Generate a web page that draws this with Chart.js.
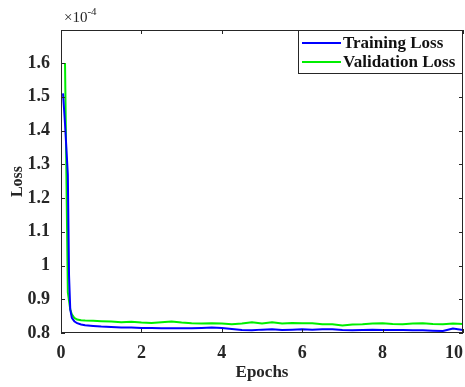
<!DOCTYPE html>
<html>
<head>
<meta charset="utf-8">
<script src="https://cdn.jsdelivr.net/npm/chart.js@4"></script>
<style>
html, body { margin: 0; padding: 0; background: #fff; overflow: hidden; }
canvas { display: block; }
</style>
</head>
<body>
<canvas id="lossChart" width="465" height="387"></canvas>
<script>
// values are in units of 1e-4 (as on the axis)
var epochs = [0.05, 0.1, 0.17, 0.2, 0.23, 0.27, 0.33, 0.4, 0.5, 0.6, 0.8,
    1, 1.25, 1.5, 1.75, 2, 2.25, 2.5, 2.75, 3, 3.25, 3.5, 3.75, 4, 4.25, 4.5, 4.75,
    5, 5.25, 5.5, 5.75, 6, 6.25, 6.5, 6.75, 7, 7.25, 7.5, 7.75, 8, 8.25, 8.5, 8.75,
    9, 9.25, 9.5, 9.75, 10];
var trainLoss = [1.51, 1.42, 1.27, 0.97, 0.87, 0.845, 0.835, 0.829, 0.825, 0.823, 0.821,
    0.819, 0.818, 0.816, 0.816, 0.815, 0.815, 0.814, 0.814, 0.814, 0.814, 0.815, 0.816, 0.815, 0.812, 0.809, 0.808,
    0.810, 0.811, 0.809, 0.810, 0.811, 0.810, 0.811, 0.811, 0.809, 0.808, 0.809, 0.810, 0.809, 0.809, 0.809, 0.808,
    0.808, 0.807, 0.806, 0.813, 0.809];
var valLoss = [null, 1.60, 0.92, 0.895, 0.87, 0.855, 0.845, 0.84, 0.838, 0.837, 0.836,
    0.835, 0.834, 0.832, 0.833, 0.831, 0.830, 0.832, 0.834, 0.831, 0.829, 0.828, 0.829, 0.828, 0.826, 0.828, 0.832,
    0.828, 0.832, 0.828, 0.830, 0.829, 0.829, 0.826, 0.826, 0.822, 0.825, 0.826, 0.828, 0.829, 0.827, 0.826, 0.828,
    0.829, 0.827, 0.826, 0.828, 0.827];
var seriesNames = ["Training Loss", "Validation Loss"];
var seriesColors = ["#0000ff", "#00ee00"];
var yTickValues = [0.8, 0.9, 1.0, 1.1, 1.2, 1.3, 1.4, 1.5, 1.6];

var serif = "'Liberation Serif', 'DejaVu Serif', serif";
var ink = "#262626";

function pts(ys) {
    return epochs.map(function (e, i) { return { x: e, y: ys[i] }; });
}

var framePlugin = {
    id: "frame",
    afterDraw: function (chart) {
        var ctx = chart.ctx, a = chart.chartArea;
        var xs = chart.scales.x, ys = chart.scales.y;
        ctx.save();
        ctx.strokeStyle = ink;
        ctx.lineWidth = 1;
        ctx.strokeRect(a.left + 0.5, a.top + 0.5, a.right - a.left - 1, a.bottom - a.top - 1);
        ctx.beginPath();
        xs.ticks.forEach(function (t) {
            var px = Math.round(xs.getPixelForValue(t.value)) + 0.5;
            ctx.moveTo(px, a.bottom); ctx.lineTo(px, a.bottom - 4);
            ctx.moveTo(px, a.top); ctx.lineTo(px, a.top + 4);
        });
        ys.ticks.forEach(function (t) {
            var py = Math.round(ys.getPixelForValue(t.value)) + 0.5;
            ctx.moveTo(a.left, py); ctx.lineTo(a.left + 4, py);
            ctx.moveTo(a.right, py); ctx.lineTo(a.right - 4, py);
        });
        ctx.stroke();

        // exponent
        ctx.fillStyle = ink;
        ctx.textBaseline = "alphabetic";
        ctx.font = "15px " + serif;
        ctx.fillText("\u00d710", a.left + 3, a.top - 8);
        var w = ctx.measureText("\u00d710").width;
        ctx.font = "11px " + serif;
        ctx.fillText("-4", a.left + 3 + w, a.top - 15);

        // legend
        var bx = 298, by = a.top, bw = a.right - bx, bh = 44;
        ctx.fillStyle = "#fff";
        ctx.fillRect(bx, by, bw, bh);
        ctx.strokeStyle = ink;
        ctx.strokeRect(bx + 0.5, by + 0.5, bw - 1, bh - 1);
        ctx.font = "bold 17px " + serif;
        ctx.textBaseline = "middle";
        chart.data.datasets.forEach(function (ds, i) {
            var yy = by + 13 + i * 19;
            ctx.strokeStyle = ds.borderColor;
            ctx.lineWidth = 2;
            ctx.beginPath();
            ctx.moveTo(bx + 4, yy); ctx.lineTo(bx + 43, yy);
            ctx.stroke();
            ctx.fillStyle = "#111";
            ctx.fillText(ds.label, bx + 45, yy + 1);
        });
        ctx.restore();
    }
};

new Chart("lossChart", {
    type: "line",
    data: {
        datasets: [{
            label: seriesNames[0],
            data: pts(trainLoss),
            borderColor: seriesColors[0],
            borderWidth: 2,
            pointRadius: 0,
            tension: 0,
            fill: false
        }, {
            label: seriesNames[1],
            data: pts(valLoss),
            borderColor: seriesColors[1],
            borderWidth: 2,
            pointRadius: 0,
            tension: 0,
            fill: false,
            spanGaps: true
        }]
    },
    options: {
        responsive: false,
        animation: false,
        layout: { padding: { top: 30, left: 0, right: 2, bottom: 0 } },
        plugins: {
            legend: { display: false },
            tooltip: { enabled: false }
        },
        scales: {
            x: {
                type: "linear",
                min: 0,
                max: 10,
                grid: { display: false },
                border: { display: false },
                ticks: {
                    stepSize: 2,
                    padding: 2,
                    maxRotation: 0,
                    color: ink,
                    font: { family: serif, size: 18, weight: "bold" },
                    // last label sits at the right edge, keep it inside the canvas
                    callback: function (v) { return v === 10 ? "10\u2007\u2007" : String(v); }
                },
                title: {
                    display: true,
                    text: "Epochs",
                    color: ink,
                    padding: { top: 0, bottom: 4 },
                    font: { family: serif, size: 17, weight: "bold" }
                },
                afterFit: function (s) { s.height = 54; s.paddingRight = 0; s.paddingLeft = 0; }
            },
            y: {
                min: 0.8,
                max: 1.698,
                grid: { display: false },
                border: { display: false },
                afterBuildTicks: function (s) {
                    s.ticks = yTickValues.map(function (v) { return { value: v }; });
                },
                ticks: {
                    padding: 3,
                    color: ink,
                    font: { family: serif, size: 18, weight: "bold" },
                    callback: function (v) { return String(+v.toFixed(1)); }
                },
                title: {
                    display: true,
                    text: "Loss",
                    color: ink,
                    padding: { top: 8, bottom: 0 },
                    font: { family: serif, size: 16, weight: "bold" }
                },
                afterFit: function (s) { s.width = 61; }
            }
        }
    },
    plugins: [framePlugin]
});
</script>
</body>
</html>
